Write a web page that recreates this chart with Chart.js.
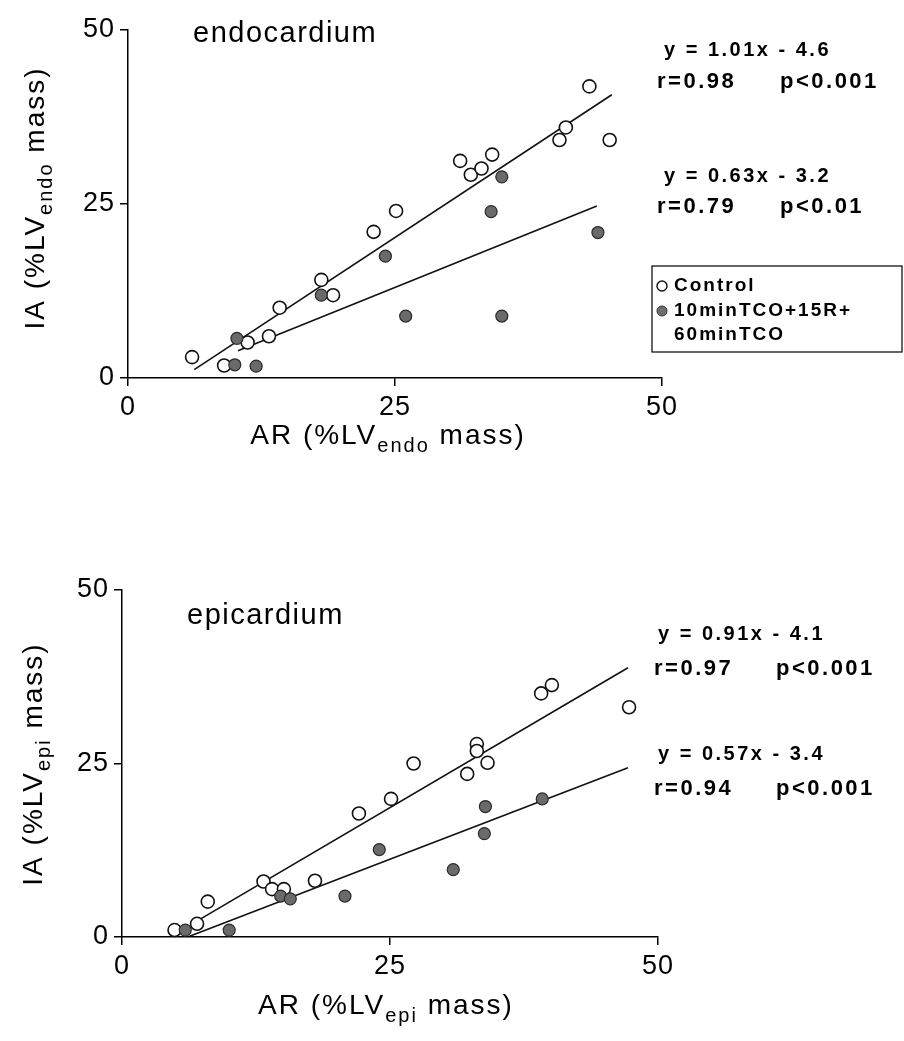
<!DOCTYPE html>
<html>
<head>
<meta charset="utf-8">
<script src="https://cdn.jsdelivr.net/npm/chart.js@4.4.1/dist/chart.umd.min.js"></script>
<style>
  html, body { margin: 0; padding: 0; background: #fff; }
  body { width: 904px; height: 1041px; position: relative; overflow: hidden; }
  canvas { position: absolute; left: 0; display: block; }
</style>
</head>
<body>
<canvas id="endo" width="904" height="520" style="top:0"></canvas>
<canvas id="epi" width="904" height="521" style="top:520px"></canvas>
<script>
// ---------------- DATA ----------------
const TICK_VALUES = [0, 25, 50];

// Endocardium – Control (open circles)
const endoControlAR = [6.0, 9.0, 11.2, 13.2, 14.2, 18.1, 19.2, 23.0, 25.1, 31.1, 32.1, 33.1, 34.1, 40.4, 41.0, 43.2, 45.1];
const endoControlIA = [3.0, 1.8, 5.1, 6.0, 10.1, 14.1, 11.9, 21.0, 24.0, 31.2, 29.2, 30.1, 32.1, 34.2, 36.0, 41.9, 34.2];
// Endocardium – 10minTCO+15R+60minTCO (filled circles)
const endoTreatedAR = [10.2, 10.0, 12.0, 18.1, 24.1, 26.0, 34.0, 35.0, 35.0, 44.0];
const endoTreatedIA = [5.7, 1.9, 1.7, 11.9, 17.5, 8.9, 23.9, 28.9, 8.9, 20.9];
// Endocardium regression line end points
const endoControlFitAR = [6.2, 45.3];
const endoControlFitIA = [1.2, 40.7];
const endoTreatedFitAR = [10.3, 43.9];
const endoTreatedFitIA = [3.9, 24.7];

// Epicardium – Control (open circles)
const epiControlAR = [4.9, 7.0, 8.0, 13.2, 14.0, 15.1, 18.0, 22.1, 25.1, 27.2, 32.2, 33.1, 33.1, 34.1, 39.1, 40.1, 47.3];
const epiControlIA = [1.0, 1.9, 5.1, 8.0, 6.9, 6.9, 8.1, 17.8, 19.9, 25.0, 23.5, 27.8, 26.8, 25.1, 35.1, 36.3, 33.1];
// Epicardium – 10minTCO+15R+60minTCO (filled circles)
const epiTreatedAR = [5.9, 10.0, 14.8, 15.7, 20.8, 24.0, 30.9, 33.8, 33.9, 39.2];
const epiTreatedIA = [1.0, 1.0, 5.9, 5.5, 5.9, 12.6, 9.7, 14.9, 18.8, 19.9];
// Epicardium regression line end points
const epiControlFitAR = [7.1, 47.2];
const epiControlFitIA = [2.4, 38.8];
const epiTreatedFitAR = [6.3, 47.2];
const epiTreatedFitIA = [0.1, 24.4];

const seriesNames = ['Control', '10minTCO+15R+', '60minTCO'];
const endoEquations = ['y = 1.01x - 4.6', 'y = 0.63x - 3.2'];
const endoR = ['r=0.98', 'r=0.79'];
const endoP = ['p<0.001', 'p<0.01'];
const epiEquations = ['y = 0.91x - 4.1', 'y = 0.57x - 3.4'];
const epiR = ['r=0.97', 'r=0.94'];
const epiP = ['p<0.001', 'p<0.001'];

// ---------------- HELPERS ----------------
const FONT = '"Liberation Sans", Arial, Helvetica, sans-serif';
const pts = (xs, ys) => xs.map((x, i) => ({ x: x, y: ys[i] }));

function setFont(ctx, spec, ls) {
  ctx.font = spec;
  if ('letterSpacing' in ctx) ctx.letterSpacing = (ls || 0) + 'px';
}

function drawRich(ctx, segs, size, subSize, subDrop, ls) {
  let total = 0;
  const widths = segs.map(s => {
    setFont(ctx, (s.sub ? subSize : size) + 'px ' + FONT, ls);
    const w = ctx.measureText(s.t).width;
    total += w;
    return w;
  });
  let x = -total / 2;
  segs.forEach((s, i) => {
    setFont(ctx, (s.sub ? subSize : size) + 'px ' + FONT, ls);
    ctx.fillText(s.t, x, s.sub ? subDrop : 0);
    x += widths[i];
  });
}

const tickSpacing = {
  id: 'tickSpacing',
  beforeInit(chart) { if ('letterSpacing' in chart.ctx) chart.ctx.letterSpacing = '1px'; },
  beforeUpdate(chart) { if ('letterSpacing' in chart.ctx) chart.ctx.letterSpacing = '1px'; },
  beforeDraw(chart) { if ('letterSpacing' in chart.ctx) chart.ctx.letterSpacing = '1px'; }
};

function textPlugin(cfg) {
  return {
    id: 'txt_' + cfg.id,
    afterDraw(chart) {
      const ctx = chart.ctx;
      ctx.save();
      ctx.fillStyle = '#000';
      ctx.textBaseline = 'alphabetic';
      ctx.textAlign = 'left';
      // panel title
      setFont(ctx, '29px ' + FONT, 1.5);
      ctx.fillText(cfg.title, cfg.titleX, cfg.titleY);
      // statistics
      cfg.eq.forEach((s, i) => {
        setFont(ctx, 'bold 20px ' + FONT, 2.5);
        ctx.fillText(s, cfg.eqX, cfg.eqY[i]);
        setFont(ctx, 'bold 22px ' + FONT, 2.5);
        ctx.fillText(cfg.r[i], cfg.rX, cfg.rY[i]);
        ctx.fillText(cfg.p[i], cfg.pX, cfg.rY[i]);
      });
      // x-axis title
      ctx.save();
      ctx.translate(cfg.xTitleX, cfg.xTitleY);
      drawRich(ctx, [{ t: 'AR (%LV' }, { t: cfg.sub, sub: true }, { t: ' mass)' }], 28, 20, 8, 2);
      ctx.restore();
      // y-axis title
      ctx.save();
      ctx.translate(cfg.yTitleX, cfg.yTitleY);
      ctx.rotate(-Math.PI / 2);
      drawRich(ctx, [{ t: 'IA (%LV' }, { t: cfg.sub, sub: true }, { t: ' mass)' }], 28, 20, 8, 2);
      ctx.restore();
      // legend
      if (cfg.legend) {
        const L = cfg.legend;
        ctx.strokeStyle = '#000';
        ctx.lineWidth = 1.2;
        ctx.strokeRect(L.x, L.y, L.w, L.h);
        ctx.beginPath();
        ctx.arc(L.x + 10, L.y + 20, 5, 0, Math.PI * 2);
        ctx.fillStyle = '#fff'; ctx.fill();
        ctx.strokeStyle = '#111'; ctx.lineWidth = 1.4; ctx.stroke();
        ctx.beginPath();
        ctx.arc(L.x + 10, L.y + 45, 5, 0, Math.PI * 2);
        ctx.fillStyle = '#6e6e6e'; ctx.fill();
        ctx.strokeStyle = '#333'; ctx.lineWidth = 1; ctx.stroke();
        ctx.fillStyle = '#000';
        setFont(ctx, 'bold 19px ' + FONT, 2);
        ctx.textBaseline = 'middle';
        ctx.fillText(seriesNames[0], L.x + 22, L.y + 20);
        ctx.fillText(seriesNames[1], L.x + 22, L.y + 45);
        ctx.fillText(seriesNames[2], L.x + 22, L.y + 69);
      }
      ctx.restore();
    }
  };
}

function build(cfg) {
  const axisCommon = (fitFn) => ({
    type: 'linear',
    min: 0, max: 50,
    afterBuildTicks: s => { s.ticks = TICK_VALUES.map(v => ({ value: v })); },
    afterFit: fitFn,
    ticks: { color: '#000', font: { family: FONT, size: 27 }, autoSkip: false, maxRotation: 0, padding: 5 },
    grid: { drawOnChartArea: false, drawTicks: true, tickLength: 8, color: '#000', lineWidth: 1.5 },
    border: { display: true, color: '#000', width: 1.5 }
  });
  return new Chart(document.getElementById(cfg.id), {
    type: 'scatter',
    data: {
      datasets: [
        { label: 'Control fit', data: pts(cfg.cFitX, cfg.cFitY), showLine: true, borderColor: '#111', borderWidth: 1.6, pointRadius: 0, order: 3, clip: false },
        { label: 'Treated fit', data: pts(cfg.tFitX, cfg.tFitY), showLine: true, borderColor: '#111', borderWidth: 1.6, pointRadius: 0, order: 2, clip: false },
        { label: 'Control', data: pts(cfg.cX, cfg.cY), pointRadius: 6.5, backgroundColor: '#fff', borderColor: '#111', borderWidth: 1.6, order: 1, clip: false },
        { label: '10minTCO+15R+60minTCO', data: pts(cfg.tX, cfg.tY), pointRadius: 6, backgroundColor: '#6a6a6a', borderColor: '#2a2a2a', borderWidth: 1.2, order: 0, clip: false }
      ]
    },
    options: {
      responsive: false,
      animation: false,
      events: [],
      layout: { padding: { left: 0, top: cfg.padTop, right: cfg.padRight, bottom: cfg.padBottom } },
      plugins: { legend: { display: false }, tooltip: { enabled: false }, title: { display: false } },
      scales: {
        x: axisCommon(s => { s.height = cfg.xH; }),
        y: axisCommon(s => { s.width = cfg.yW; })
      }
    },
    plugins: [tickSpacing, textPlugin(cfg)]
  });
}

build({
  id: 'endo', sub: 'endo', title: 'endocardium',
  cX: endoControlAR, cY: endoControlIA, tX: endoTreatedAR, tY: endoTreatedIA,
  cFitX: endoControlFitAR, cFitY: endoControlFitIA, tFitX: endoTreatedFitAR, tFitY: endoTreatedFitIA,
  padTop: 30, padRight: 904 - 662, padBottom: 520 - 378 - 60, xH: 60, yW: 128,
  titleX: 193, titleY: 42,
  eq: endoEquations, r: endoR, p: endoP,
  eqX: 664, rX: 657, pX: 780, eqY: [56, 182], rY: [88, 213],
  xTitleX: 388, xTitleY: 444, yTitleX: 44, yTitleY: 198,
  legend: { x: 652, y: 266, w: 250, h: 86 }
});

build({
  id: 'epi', sub: 'epi', title: 'epicardium',
  cX: epiControlAR, cY: epiControlIA, tX: epiTreatedAR, tY: epiTreatedIA,
  cFitX: epiControlFitAR, cFitY: epiControlFitIA, tFitX: epiTreatedFitAR, tFitY: epiTreatedFitIA,
  padTop: 70, padRight: 904 - 658, padBottom: 521 - 417 - 60, xH: 60, yW: 122,
  titleX: 187, titleY: 104,
  eq: epiEquations, r: epiR, p: epiP,
  eqX: 658, rX: 654, pX: 776, eqY: [120, 240], rY: [155, 275],
  xTitleX: 386, xTitleY: 494, yTitleX: 42, yTitleY: 244,
  legend: null
});
</script>
</body>
</html>
